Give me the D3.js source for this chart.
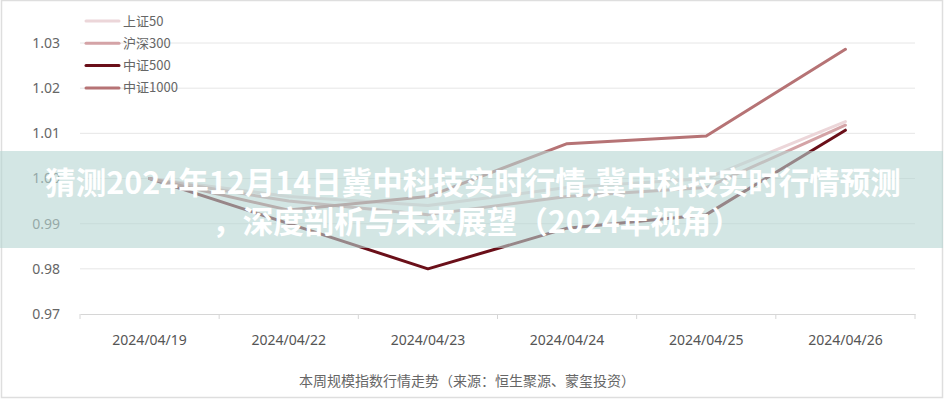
<!DOCTYPE html>
<html><head><meta charset="utf-8">
<script src="https://cdn.jsdelivr.net/npm/d3@7"></script>
<style>
body{margin:0;background:#fff;}
svg{display:block;font-family:"Noto Sans CJK SC","Noto Sans",sans-serif;}
</style></head>
<body>
<svg id="c" width="947" height="400"></svg>
<script>
const categories = ["2024/04/19","2024/04/22","2024/04/23","2024/04/24","2024/04/25","2024/04/26"];
const seriesNames = ["上证50","沪深300","中证500","中证1000"];
const sz50   = [1.000, 0.996, 0.994, 0.998, 1.000, 1.0126];
const hs300  = [1.000, 0.995, 0.992, 0.996, 0.998, 1.0118];
const zz500  = [1.000, 0.990, 0.980, 0.989, 0.992, 1.0107];
const zz1000 = [1.000, 0.993, 0.996, 1.0077, 1.0094, 1.0286];
const yTicks = [0.97, 0.98, 0.99, 1.00, 1.01, 1.02, 1.03];
const colors = ["#ecd6d9", "#d4a3a6", "#6a0f19", "#b67375"];
const titleLines = ["猜测2024年12月14日冀中科技实时行情,冀中科技实时行情预测", "，深度剖析与未来展望（2024年视角）"];
const caption = "本周规模指数行情走势（来源：恒生聚源、蒙玺投资）";

const series = [sz50, hs300, zz500, zz1000];
const svg = d3.select("#c");

// frame
svg.append("rect").attr("x",1.5).attr("y",0.5).attr("width",941).attr("height",397)
  .attr("fill","none").attr("stroke","#dedede").attr("stroke-width",1.5);

const x = d3.scalePoint().domain(categories).range([80,915]).padding(0.5);
const xb = d3.scaleBand().domain(categories).range([80,915]);
const y = d3.scaleLinear().domain([0.97,1.03]).range([314,43]);

// gridlines
svg.append("g").selectAll("line").data(yTicks.slice(1)).join("line")
  .attr("x1",80).attr("x2",915).attr("y1",d=>y(d)).attr("y2",d=>y(d))
  .attr("stroke","#e6e6e6").attr("stroke-width",1);

// y axis labels
const ya = svg.append("g").attr("transform","translate(80,0)")
  .call(d3.axisLeft(y).tickValues(yTicks).tickFormat(d3.format(".2f")).tickSize(0).tickPadding(20));
ya.select(".domain").remove();
ya.selectAll("text").attr("fill","#666").attr("font-size",14).attr("font-family","Noto Sans, sans-serif");

// x axis
const xa = svg.append("g").attr("transform","translate(0,314)")
  .call(d3.axisBottom(xb).tickSize(0).tickPadding(21));
xa.select(".domain").attr("stroke","#d6d6d6");
xa.selectAll("text").attr("fill","#555").attr("font-size",14).attr("font-family","Noto Sans, sans-serif");
const edges = categories.map(c=>xb(c)).concat([xb(categories[categories.length-1])+xb.bandwidth()]);
xa.append("g").selectAll("line").data(edges).join("line")
  .attr("x1",d=>d).attr("x2",d=>d).attr("y1",0).attr("y2",5).attr("stroke","#d6d6d6");

// lines
const line = d3.line().x((d,i)=>x(categories[i])).y(d=>y(d));
svg.append("g").selectAll("path").data(series).join("path")
  .attr("d",d=>line(d)).attr("fill","none")
  .attr("stroke",(d,i)=>colors[i]).attr("stroke-width",3)
  .attr("stroke-linejoin","round").attr("stroke-linecap","round");

// legend
const lg = svg.append("g");
seriesNames.forEach((n,i)=>{
  const yy = 21 + i*22.3;
  lg.append("line").attr("x1",86).attr("x2",119).attr("y1",yy).attr("y2",yy)
    .attr("stroke",colors[i]).attr("stroke-width",3).attr("stroke-linecap","round");
  lg.append("text").attr("x",123).attr("y",yy+4.5).text(n)
    .attr("font-size",13).attr("fill","#666");
});

// caption
svg.append("text").attr("x",467).attr("y",386).attr("text-anchor","middle")
  .attr("font-size",14).attr("fill","#666").text(caption);

// overlay banner
svg.append("rect").attr("x",0).attr("y",151).attr("width",943).attr("height",97)
  .attr("fill","rgb(182,213,210)").attr("fill-opacity",0.6);
svg.append("g").selectAll("text").data(titleLines).join("text")
  .attr("x",(d,i)=>i===0?473:477).attr("y",(d,i)=>194+i*39)
  .attr("text-anchor","middle").attr("font-size",30.5).attr("font-weight","bold")
  .attr("fill","#fff").text(d=>d);
</script>
</body></html>
